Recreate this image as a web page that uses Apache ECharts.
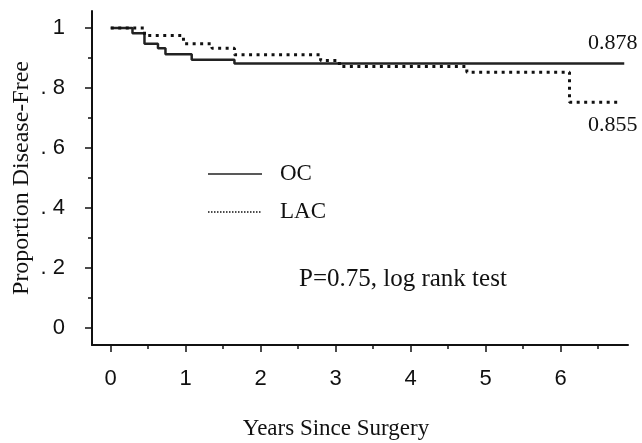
<!DOCTYPE html>
<html>
<head>
    <meta charset="utf-8">
    <title>Disease-free survival</title>
    <script src="https://cdn.jsdelivr.net/npm/echarts@6/dist/echarts.min.js"></script>
    <style>
        html, body { margin: 0; padding: 0; background: #fff; }
    </style>
</head>
<body>
    <div id="main" style="width: 642px;height:443px;"></div>
    <script type="text/javascript">
    // Kaplan-Meier steps (years, proportion)
    var ocTimes = [0, 0.29, 0.45, 0.63, 0.73, 1.08, 1.65, 6.85];
    var ocSurv = [1.0, 0.983, 0.948, 0.933, 0.913, 0.894, 0.882, 0.882];
    var lacTimes = [0, 0.45, 0.97, 1.35, 1.65, 2.8, 3.05, 4.75, 6.12, 6.79];
    var lacSurv = [1.0, 0.975, 0.948, 0.933, 0.911, 0.892, 0.872, 0.853, 0.753, 0.753];

    var xTicks = [0, 1, 2, 3, 4, 5, 6];
    var xMinorTicks = [0.5, 1.5, 2.5, 3.5, 4.5, 5.5, 6.5];
    var yTicks = [0, 0.2, 0.4, 0.6, 0.8, 1];
    var yMinorTicks = [0.1, 0.3, 0.5, 0.7, 0.9];
    var yTickLabels = ['0', '. 2', '. 4', '. 6', '. 8', '1'];

    var sans = '"Liberation Sans Narrow", "Arial Narrow", sans-serif';
    var serif = '"Liberation Serif", "Times New Roman", serif';
    var ink = '#111';

    function pairs(xs, ys) {
        return xs.map(function (x, i) { return [x, ys[i]]; });
    }

    var myChart = echarts.init(document.getElementById('main'));

    var xBase = { type: 'value', min: -0.25, max: 6.9, splitLine: { show: false } };
    var yBase = { type: 'value', min: -0.057, max: 1.057, splitLine: { show: false } };

    option = {
        animation: false,
        backgroundColor: '#fff',
        grid: { left: 92, right: 14, top: 11, bottom: 98 },
        xAxis: [
            echarts.util.merge({
                position: 'bottom',
                axisLine: { onZero: false, lineStyle: { color: ink, width: 2 } },
                axisTick: { customValues: xTicks, length: 7, lineStyle: { color: ink, width: 1.5 } },
                axisLabel: {
                    customValues: xTicks, margin: 23, color: ink,
                    fontFamily: sans, fontSize: 22
                }
            }, xBase, true),
            echarts.util.merge({
                position: 'bottom',
                axisLine: { show: false, onZero: false },
                axisTick: { customValues: xMinorTicks, length: 4, lineStyle: { color: ink, width: 1.5 } },
                axisLabel: { show: false }
            }, xBase, true)
        ],
        yAxis: [
            echarts.util.merge({
                position: 'left',
                axisLine: { show: true, onZero: false, lineStyle: { color: ink, width: 2 } },
                axisTick: { show: true, customValues: yTicks, length: 7, lineStyle: { color: ink, width: 1.5 } },
                axisLabel: {
                    customValues: yTicks, margin: 27, color: ink,
                    fontFamily: sans, fontSize: 22,
                    formatter: function (v) {
                        var i = yTicks.indexOf(v);
                        return i >= 0 ? yTickLabels[i] : '';
                    }
                }
            }, yBase, true),
            echarts.util.merge({
                position: 'left',
                offset: 0,
                axisLine: { show: false, onZero: false },
                axisTick: { show: true, customValues: yMinorTicks, length: 4, lineStyle: { color: ink, width: 1.5 } },
                axisLabel: { show: false }
            }, yBase, true)
        ],
        series: [
            {
                name: 'OC',
                type: 'line',
                step: 'end',
                xAxisIndex: 0,
                yAxisIndex: 0,
                symbol: 'none',
                data: pairs(ocTimes, ocSurv),
                lineStyle: { color: '#222', width: 2.5 }
            },
            {
                name: 'LAC',
                type: 'line',
                step: 'end',
                xAxisIndex: 0,
                yAxisIndex: 0,
                symbol: 'none',
                data: pairs(lacTimes, lacSurv),
                lineStyle: { color: ink, width: 3, type: [3, 4.5], cap: 'butt' }
            }
        ],
        graphic: [
            { type: 'line', shape: { x1: 208, y1: 174, x2: 262, y2: 174 }, style: { stroke: '#222', lineWidth: 1.5 } },
            { type: 'line', shape: { x1: 208, y1: 212, x2: 262, y2: 212 }, style: { stroke: ink, lineWidth: 1.5, lineDash: [1.5, 1.5] } },
            { type: 'text', x: 280, y: 174, style: { text: 'OC', font: '23px ' + serif, fill: ink, verticalAlign: 'middle' } },
            { type: 'text', x: 280, y: 212, style: { text: 'LAC', font: '23px ' + serif, fill: ink, verticalAlign: 'middle' } },
            { type: 'text', x: 299, y: 279, style: { text: 'P=0.75, log rank test', font: '25px ' + serif, fill: ink, verticalAlign: 'middle' } },
            { type: 'text', x: 588, y: 43, style: { text: '0.878', font: '22px ' + serif, fill: ink, verticalAlign: 'middle' } },
            { type: 'text', x: 588, y: 125, style: { text: '0.855', font: '22px ' + serif, fill: ink, verticalAlign: 'middle' } },
            { type: 'text', x: 336, y: 429, style: { text: 'Years Since Surgery', font: '23px ' + serif, fill: ink, align: 'center', verticalAlign: 'middle' } },
            { type: 'text', x: 22, y: 178, rotation: Math.PI / 2, style: { text: 'Proportion Disease-Free', font: '24px ' + serif, fill: ink, align: 'center', verticalAlign: 'middle' } }
        ]
    };

    myChart.setOption(option);
    </script>
</body>
</html>
